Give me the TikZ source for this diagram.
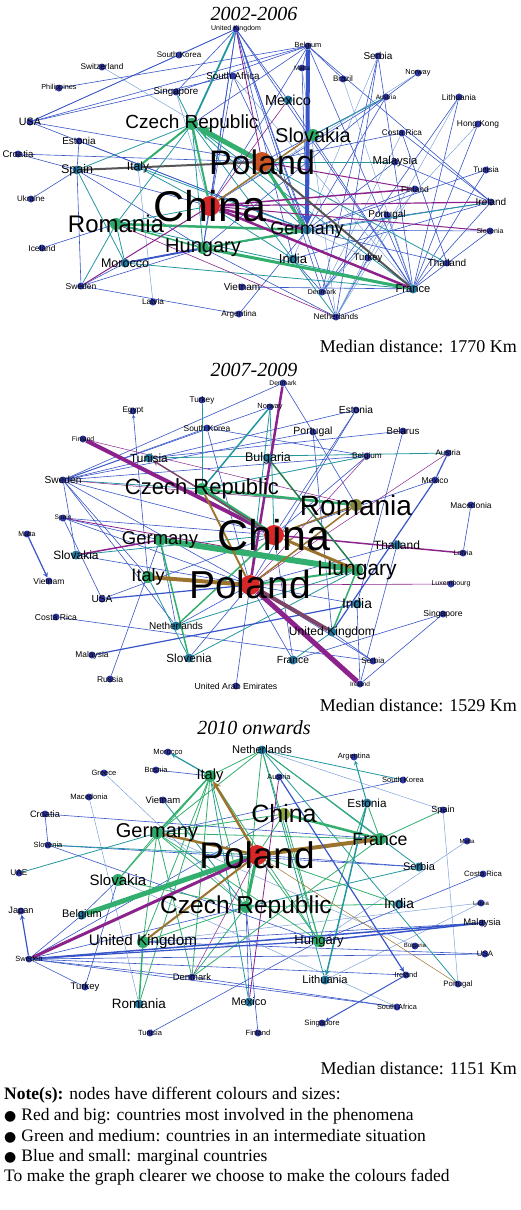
\documentclass[tikz,border=0pt]{standalone}
\usepackage{fontspec}
\setmainfont{Liberation Serif}
\setsansfont{Liberation Sans}
\newfontfamily\symfont{DejaVu Sans}
\usepackage{tikz}
\usetikzlibrary{backgrounds}
\definecolor{ndblue}{RGB}{45,55,165}
\definecolor{ndteal}{RGB}{35,120,160}
\definecolor{ndgreen}{RGB}{45,170,105}
\definecolor{ndred}{RGB}{215,40,40}
\definecolor{ndorange}{RGB}{200,85,35}
\definecolor{ndolive}{RGB}{135,135,60}
\definecolor{ndlime}{RGB}{140,165,60}
\definecolor{eblue}{RGB}{55,85,200}
\definecolor{elight}{RGB}{115,155,215}
\definecolor{eteal}{RGB}{35,150,160}
\definecolor{egreen}{RGB}{50,175,110}
\definecolor{epurple}{RGB}{140,35,140}
\definecolor{ebrown}{RGB}{155,115,45}
\definecolor{egrey}{RGB}{85,85,85}
\definecolor{emauve}{RGB}{125,70,105}

\tikzset{
  dot/.style={circle, fill=ndblue, inner sep=0pt, minimum size=7pt},
  tdot/.style={circle, fill=ndteal, inner sep=0pt, minimum size=9pt},
  gdot/.style={circle, fill=ndgreen, inner sep=0pt, minimum size=12pt},
  rdot/.style={circle, fill=ndred, inner sep=0pt, minimum size=20pt},
  ctag/.style={font=\fontsize{#1}{#1}\selectfont\sffamily, inner sep=0pt, text=black},
  title/.style={font=\fontsize{20}{20}\selectfont\itshape},
  median/.style={font=\fontsize{18}{18}\selectfont, anchor=east, inner sep=0pt},
  note/.style={font=\fontsize{17.5}{17.5}\selectfont, anchor=west, inner sep=0pt},
  eb/.style={draw=eblue, line width=0.6pt},
  el/.style={draw=elight, line width=0.45pt},
  et/.style={draw=eteal, line width=0.8pt},
  eg/.style={draw=egreen, line width=1pt},
  ep/.style={draw=epurple, line width=1pt},
  eo/.style={draw=ebrown, line width=1pt},
}

\begin{document}
\begin{tikzpicture}[x=1pt, y=-1pt]
\useasboundingbox (0,0) rectangle (520,1210);

% ---------- 2002-2006
\node[title] (t1) at (254,14) {2002-2006};
\node[dot, label={[ctag=7]center:United Kingdom}] (pUK) at (236,29) {};
\node[dot, label={[ctag=8]center:South Korea}] (pSKo) at (179,55) {};
\node[dot, label={[ctag=8.3]center:Switzerland}] (pSwi) at (102,67) {};
\node[dot, label={[ctag=7.3]center:Philippines}] (pPhi) at (59,88) {};
\node[dot, label={[ctag=9.8]center:South Africa}] (pSAf) at (233,76) {};
\node[dot, label={[ctag=9.8]center:Singapore}] (pSin) at (176,92) {};
\node[dot, label={[ctag=10.7]center:USA}] (pUSA) at (30,122) {};
\node[gdot, label={[ctag=19]center:Czech Republic}] (pCze) at (192,124) {};
\node[dot, label={[ctag=10]center:Estonia}] (pEst) at (79,141) {};
\node[dot, label={[ctag=9.6]center:Croatia}] (pCro) at (18,154) {};
\node[tdot, label={[ctag=12.5]center:Spain}] (pSpa) at (77,170) {};
\node[tdot, label={[ctag=12]center:Italy}] (pIta) at (138,167) {};
\node[dot, label={[ctag=8]center:Ukraine}] (pUkr) at (31,199) {};
\node[rdot, label={[ctag=43]center:China}] (pChi) at (210,206) {};
\node[gdot, label={[ctag=24]center:Romania}] (pRom) at (116,224) {};
\node[gdot, label={[ctag=20]center:Hungary}] (pHun) at (203,248) {};
\node[dot, label={[ctag=8.4]center:Iceland}] (pIce) at (42,248) {};
\node[tdot, label={[ctag=12.5]center:Morocco}] (pMor) at (125,263) {};
\node[dot, label={[ctag=8.5]center:Sweden}] (pSwe) at (81,286) {};
\node[dot, label={[ctag=8.2]center:Latvia}] (pLat) at (153,302) {};
\node[dot, label={[ctag=10]center:Vietnam}] (pVie) at (242,287) {};
\node[dot, label={[ctag=8.2]center:Argentina}] (pArg) at (239,314) {};
\node[dot, label={[ctag=7.4]center:Belgium}] (pBel) at (308,46) {};
\node[dot, label={[ctag=6.5]center:Malta}] (pMal) at (302,68) {};
\node[dot, label={[ctag=8]center:Brazil}] (pBra) at (343,79) {};
\node[dot, label={[ctag=10]center:Serbia}] (pSer) at (378,56) {};
\node[dot, label={[ctag=7.4]center:Norway}] (pNor) at (418,73) {};
\node[tdot, label={[ctag=14.5]center:Mexico}] (pMex) at (288,100) {};
\node[dot, label={[ctag=6.5]center:Austria}] (pAus) at (386,97) {};
\node[dot, label={[ctag=8.4]center:Lithuania}] (pLit) at (459,97) {};
\node[dot, label={[ctag=8.4]center:Hong Kong}] (pHK) at (478,124) {};
\node[dot, label={[ctag=8.2]center:Costa Rica}] (pCR) at (402,133) {};
\node[gdot, label={[ctag=20]center:Slovakia}] (pSlk) at (313,135) {};
\node[rdot, fill=ndorange, label={[ctag=34]center:Poland}] (pPol) at (262,162) {};
\node[dot, label={[ctag=11.4]center:Malaysia}] (pMys) at (395,162) {};
\node[dot, label={[ctag=8]center:Tunisia}] (pTun) at (486,170) {};
\node[dot, label={[ctag=8.5]center:Finland}] (pFin) at (415,189) {};
\node[dot, label={[ctag=10]center:Ireland}] (pIre) at (491,202) {};
\node[dot, label={[ctag=10]center:Portugal}] (pPor) at (387,215) {};
\node[tdot, label={[ctag=17.8]center:Germany}] (pGer) at (307,230) {};
\node[dot, label={[ctag=7]center:Slovenia}] (pSlo) at (490,231) {};
\node[tdot, label={[ctag=13]center:India}] (pInd) at (293,259) {};
\node[dot, label={[ctag=9.5]center:Turkey}] (pTur) at (368,258) {};
\node[dot, label={[ctag=10]center:Thailand}] (pTha) at (447,263) {};
\node[dot, label={[ctag=7]center:Denmark}] (pDen) at (322,292) {};
\node[tdot, label={[ctag=11.2]center:France}] (pFra) at (413,289) {};
\node[dot, label={[ctag=8.3]center:Netherlands}] (pNet) at (336,317) {};
\node[median] (m1) at (517,346) {Median distance: 1770 Km};

% ---------- 2007-2009
\node[title] (t2) at (254,370) {2007-2009};
\node[dot, label={[ctag=8.2]center:Turkey}] (qTur) at (202,400) {};
\node[dot, label={[ctag=8.2]center:Egypt}] (qEgy) at (133,411) {};
\node[dot, label={[ctag=8.4]center:South Korea}] (qSKo) at (207,428) {};
\node[dot, label={[ctag=6.8]center:Finland}] (qFin) at (83,439) {};
\node[tdot, label={[ctag=11.8]center:Tunisia}] (qTun) at (149,458) {};
\node[dot, label={[ctag=10.2]center:Sweden}] (qSwe) at (63,480) {};
\node[gdot, label={[ctag=22]center:Czech Republic}] (qCze) at (202,489) {};
\node[tdot, label={[ctag=12.5]center:Bulgaria}] (qBul) at (268,458) {};
\node[dot, label={[ctag=6.7]center:Denmark}] (qDen) at (283,383) {};
\node[dot, label={[ctag=7.4]center:Norway}] (qNor) at (270,407) {};
\node[dot, label={[ctag=10.2]center:Estonia}] (qEst) at (356,410) {};
\node[dot, label={[ctag=10.5]center:Portugal}] (qPor) at (313,432) {};
\node[dot, label={[ctag=9.7]center:Belarus}] (qBelr) at (403,431) {};
\node[dot, label={[ctag=8.2]center:Belgium}] (qBel) at (367,456) {};
\node[dot, label={[ctag=8]center:Austria}] (qAus) at (448,453) {};
\node[dot, label={[ctag=8.5]center:Mexico}] (qMex) at (435,480) {};
\node[dot, label={[ctag=8.4]center:Macedonia}] (qMac) at (471,505) {};
\node[gdot, fill=ndolive, label={[ctag=28]center:Romania}] (qRom) at (356,505) {};
\node[rdot, label={[ctag=43]center:China}] (qChi) at (274,535) {};
\node[tdot, label={[ctag=12]center:Thailand}] (qTha) at (397,545) {};
\node[dot, label={[ctag=7.1]center:Latvia}] (qLat) at (463,553) {};
\node[gdot, label={[ctag=21]center:Hungary}] (qHun) at (357,570) {};
\node[dot, label={[ctag=7]center:Luxembourg}] (qLux) at (451,584) {};
\node[rdot, label={[ctag=39]center:Poland}] (qPol) at (250,585) {};
\node[tdot, label={[ctag=13.8]center:India}] (qInd) at (357,604) {};
\node[dot, label={[ctag=8.6]center:Singapore}] (qSin) at (443,614) {};
\node[tdot, label={[ctag=12.1]center:United Kingdom}] (qUK) at (332,632) {};
\node[tdot, label={[ctag=10.3]center:France}] (qFra) at (293,660) {};
\node[dot, label={[ctag=8]center:Serbia}] (qSer) at (373,661) {};
\node[dot, label={[ctag=6.5]center:Ireland}] (qIre) at (360,684) {};
\node[dot, label={[ctag=6.6]center:Spain}] (qSpa) at (63,518) {};
\node[dot, label={[ctag=7]center:Malta}] (qMlt) at (27,534) {};
\node[gdot, label={[ctag=18.5]center:Germany}] (qGer) at (160,540) {};
\node[tdot, label={[ctag=12]center:Slovakia}] (qSlk) at (76,555) {};
\node[dot, label={[ctag=8.5]center:Vietnam}] (qVie) at (49,581) {};
\node[gdot, label={[ctag=18]center:Italy}] (qIta) at (148,577) {};
\node[dot, label={[ctag=10.2]center:USA}] (qUSA) at (102,599) {};
\node[dot, label={[ctag=8.6]center:Costa Rica}] (qCR) at (56,617) {};
\node[tdot, label={[ctag=10]center:Netherlands}] (qNet) at (176,626) {};
\node[dot, label={[ctag=8.4]center:Malaysia}] (qMys) at (92,655) {};
\node[tdot, label={[ctag=11.8]center:Slovenia}] (qSlo) at (189,658) {};
\node[dot, label={[ctag=8.5]center:Russia}] (qRus) at (110,679) {};
\node[dot, label={[ctag=8.7]center:United Arab Emirates}] (qUAE) at (236,686) {};
\node[median] (m2) at (517,705) {Median distance: 1529 Km};

% ---------- 2010 onwards
\node[title] (t3) at (254,728) {2010 onwards};
\node[dot, label={[ctag=7.6]center:Morocco}] (rMor) at (168,752) {};
\node[tdot, label={[ctag=11.1]center:Netherlands}] (rNet) at (262,750) {};
\node[dot, label={[ctag=7.5]center:Bosnia}] (rBos) at (156,770) {};
\node[dot, label={[ctag=7.6]center:Greece}] (rGre) at (104,773) {};
\node[gdot, label={[ctag=14.7]center:Italy}] (rIta) at (210,776) {};
\node[dot, label={[ctag=7.6]center:Macedonia}] (rMac) at (89,797) {};
\node[dot, label={[ctag=9.5]center:Vietnam}] (rVie) at (163,800) {};
\node[dot, label={[ctag=9.3]center:Croatia}] (rCro) at (45,814) {};
\node[gdot, label={[ctag=20]center:Germany}] (rGer) at (157,833) {};
\node[dot, label={[ctag=7.5]center:Slovenia}] (rSlo) at (48,845) {};
\node[dot, label={[ctag=7.4]center:Austria}] (rAus) at (279,777) {};
\node[dot, label={[ctag=7.5]center:Argentina}] (rArg) at (354,757) {};
\node[dot, label={[ctag=7.5]center:South Korea}] (rSKo) at (403,780) {};
\node[tdot, label={[ctag=11.7]center:Estonia}] (rEst) at (367,803) {};
\node[dot, label={[ctag=9]center:Spain}] (rSpa) at (443,810) {};
\node[gdot, fill=ndlime, label={[ctag=25]center:China}] (rChi) at (284,814) {};
\node[gdot, label={[ctag=17.7]center:France}] (rFra) at (380,839) {};
\node[dot, label={[ctag=6]center:Malta}] (rMlt) at (467,841) {};
\node[rdot, label={[ctag=37]center:Poland}] (rPol) at (257,855) {};
\node[dot, label={[ctag=8.3]center:UAE}] (rUAE) at (19,873) {};
\node[gdot, label={[ctag=15]center:Slovakia}] (rSlk) at (118,880) {};
\node[dot, label={[ctag=9.2]center:Japan}] (rJap) at (21,911) {};
\node[tdot, label={[ctag=11]center:Belgium}] (rBel) at (82,915) {};
\node[gdot, label={[ctag=24.5]center:Czech Republic}] (rCze) at (246,907) {};
\node[gdot, label={[ctag=15.2]center:United Kingdom}] (rUK) at (143,942) {};
\node[dot, label={[ctag=7.5]center:Sweden}] (rSwe) at (29,959) {};
\node[dot, label={[ctag=9.4]center:Denmark}] (rDen) at (192,977) {};
\node[dot, label={[ctag=9.5]center:Turkey}] (rTur) at (85,987) {};
\node[tdot, label={[ctag=13.5]center:Romania}] (rRom) at (139,1004) {};
\node[tdot, label={[ctag=11]center:Mexico}] (rMex) at (249,1002) {};
\node[tdot, label={[ctag=11]center:Serbia}] (rSer) at (419,867) {};
\node[dot, label={[ctag=7.7]center:Costa Rica}] (rCR) at (483,874) {};
\node[tdot, label={[ctag=13.8]center:India}] (rInd) at (399,904) {};
\node[dot, label={[ctag=6]center:Latvia}] (rLat) at (481,903) {};
\node[dot, label={[ctag=9.5]center:Malaysia}] (rMys) at (482,923) {};
\node[gdot, label={[ctag=13]center:Hungary}] (rHun) at (319,941) {};
\node[dot, label={[ctag=6]center:Bulgaria}] (rBul) at (415,946) {};
\node[dot, label={[ctag=7.8]center:USA}] (rUSA) at (485,954) {};
\node[dot, label={[ctag=7.5]center:Ireland}] (rIre) at (406,975) {};
\node[tdot, label={[ctag=11.1]center:Lithuania}] (rLit) at (325,980) {};
\node[dot, label={[ctag=7.8]center:Portugal}] (rPor) at (458,984) {};
\node[dot, label={[ctag=7.3]center:South Africa}] (rSAf) at (397,1007) {};
\node[dot, label={[ctag=7.7]center:Singapore}] (rSin) at (322,1023) {};
\node[dot, label={[ctag=7.5]center:Tunisia}] (rTun) at (150,1033) {};
\node[dot, label={[ctag=7.5]center:Finland}] (rFin) at (258,1033) {};
\node[median] (m3) at (517,1068) {Median distance: 1151 Km};

% ---------- notes
\node[note] (n1) at (4,1095) {\textbf{Note(s):} nodes have different colours and sizes:};
\node[note] (n2) at (4,1116) {{\symfont\fontsize{14}{14}\selectfont ●}\hspace{5pt}Red and big: countries most involved in the phenomena};
\node[note] (n3) at (4,1136) {{\symfont\fontsize{14}{14}\selectfont ●}\hspace{5pt}Green and medium: countries in an intermediate situation};
\node[note] (n4) at (4,1157) {{\symfont\fontsize{14}{14}\selectfont ●}\hspace{5pt}Blue and small: marginal countries};
\node[note] (n5) at (4,1177) {To make the graph clearer we choose to make the colours faded};

\begin{scope}[on background layer]
% 2002-2006 links
\foreach \a/\b in {pUK/pUSA, pUK/pSKo, pUK/pChi, pUK/pGer, pUK/pFra, pUK/pDen, pUK/pNet,
  pUK/pInd, pUK/pHun, pUK/pMex, pUK/pSin, pSKo/pUSA, pSAf/pUSA, pBel/pUSA, pBel/pSin,
  pBel/pCze, pBel/pBra, pBel/pMal, pBel/pChi, pBel/pFra, pBel/pIre, pPhi/pBel, pUSA/pPol,
  pUSA/pGer, pEst/pSpa, pEst/pGer, pCro/pChi, pCro/pPol, pSpa/pSwe, pSpa/pUkr, pSpa/pHun,
  pIce/pRom, pSwe/pArg, pSwe/pMor, pSer/pDen, pSer/pFra, pNor/pAus, pAus/pChi,
  pAus/pPol, pAus/pGer, pAus/pHun, pLit/pFra, pHK/pFra, pCR/pIre, pCR/pTha, pMys/pGer,
  pMys/pIre, pTun/pFra, pTun/pGer, pFin/pGer, pIre/pGer, pIre/pFra, pIre/pInd, pPor/pDen,
  pPor/pFra, pSlo/pGer, pSlo/pFra, pInd/pDen, pTur/pNet, pTha/pGer, pNet/pHun, pNet/pFra,
  pVie/pFra, pArg/pGer, pSAf/pGer, pSAf/pHun, pMal/pGer, pMex/pFra, pSer/pNet, pLit/pDen,
  pCR/pPol, pMor/pGer, pSwe/pHun}
  \draw[eb] (\a) -- (\b);
\foreach \a/\b in {pSwi/pPol, pIta/pLat, pHK/pDen, pNor/pChi, pSAf/pFra, pBra/pFra,
  pSer/pInd, pMal/pNet, pTur/pGer, pFin/pNet, pPor/pNet, pCR/pDen, pLit/pNet, pSin/pChi}
  \draw[el] (\a) -- (\b);
\foreach \a/\b in {pSin/pCze, pCze/pSpa, pCze/pRom, pCze/pHun, pCze/pGer, pCze/pFra,
  pSpa/pMor, pIta/pChi, pIta/pGer, pRom/pSwe, pRom/pMor, pRom/pFra, pHun/pIre, pTha/pCze,
  pNet/pCze, pInd/pChi, pSlk/pAus, pMys/pPol, pRom/pChi, pMor/pFra}
  \draw[et] (\a) -- (\b);
\draw[et, line width=1.8pt] (pUK) -- (pCze);
\draw[eb, line width=1.8pt] (pMor) -- (pHun);
\draw[eb, line width=4pt, -stealth] (pBel) -- (pGer);
\draw[eg, line width=5pt, -stealth] (pPol) -- (pCze);
\draw[eg, line width=2pt] (pCze) -- (pChi);
\draw[eg, line width=2pt] (pCze) -- (pIta);
\draw[eg, line width=2.5pt] (pRom) -- (pGer);
\draw[eg, line width=3pt] (pHun) -- (pFra);
\draw[eg, line width=2pt] (pHun) -- (pGer);
\draw[eg, line width=1.5pt] (pRom) -- (pHun);
\draw[eg, line width=3pt] (pPol) -- (pGer);
\draw[eo, line width=1.5pt] (pSlk) -- (pChi);
\draw[ep, line width=0.8pt] (pUK) -- (pPol);
\draw[ep, line width=2.5pt] (pChi) -- (pGer);
\draw[ep, line width=1.2pt] (pChi) -- (pIre);
\draw[ep, line width=1.5pt] (pChi) -- (pFin);
\draw[ep, line width=1pt] (pChi) -- (pSlo);
\draw[ep, line width=1pt] (pSwe) -- (pChi);
\draw[ep, line width=0.6pt] (pMex) -- (pChi);
\draw[ep, line width=1pt] (pPol) -- (pFin);
\draw[ep, line width=0.6pt] (pRom) -- (pNet);
\draw[ep, line width=2.5pt] (pChi) -- (pFra);
\draw[draw=egrey, line width=2pt] (pSpa) -- (pPol);
\draw[draw=egrey, line width=2pt] (pPol) -- (pFra);

% 2007-2009 links
\foreach \a/\b in {qSKo/qSwe, qSKo/qPol, qEst/qSwe, qEst/qChi, qPor/qSwe, qPor/qRom,
  qPor/qUK, qBelr/qTun, qBelr/qInd, qBel/qSwe, qBel/qChi, qMex/qChi, qMac/qLat,
  qTha/qIre, qTha/qPol, qSin/qIre, qInd/qIre, qInd/qPol, qUK/qSer, qFra/qPol, qSer/qPol,
  qSwe/qChi, qSwe/qPol, qSwe/qIta, qSwe/qSlk, qSwe/qNet, qSwe/qNor, qSpa/qChi, qSpa/qPol,
  qSpa/qUSA, qSpa/qGer, qSlk/qPol, qUSA/qChi, qCR/qSer, qRus/qGer, qUAE/qPol,
  qNet/qPol, qNet/qGer, qSlo/qPol, qFra/qChi, qDen/qPor, qEst/qPol, qDen/qSwe, qSKo/qBel,
  qSin/qFra}
  \draw[eb] (\a) -- (\b);
\foreach \a/\b in {qNor/qPol, qSwe/qCze, qAus/qTun, qBel/qCze, qSlk/qChi, qNet/qHun,
  qUK/qFra, qIta/qSlo, qSlo/qHun, qTur/qCze, qNor/qChi}
  \draw[et] (\a) -- (\b);
\draw[et, line width=1.5pt] (qNor) -- (qCze);
\draw[eb, -stealth] (qIta) -- (qEgy);
\draw[eb, line width=1.2pt, -stealth] (qMlt) -- (qVie);
\draw[eb, line width=1.2pt] (qAus) -- (qMex);
\draw[eb, line width=1.2pt] (qMex) -- (qUK);
\draw[eb, line width=1.2pt] (qUSA) -- (qPol);
\draw[eb, line width=1.2pt] (qMys) -- (qInd);
\draw[ep, line width=4pt] (qFin) -- (qChi);
\draw[ep, line width=2.5pt] (qDen) -- (qPol);
\draw[ep, line width=5pt] (qPol) -- (qIre);
\draw[draw=emauve, line width=4pt] (qPol) -- (qUK);
\draw[ep, line width=1.5pt] (qChi) -- (qLat);
\draw[ep, line width=0.6pt] (qPol) -- (qLux);
\draw[ep, line width=0.5pt] (qSwe) -- (qRom);
\draw[ep, line width=1.5pt] (qSlk) -- (qGer);
\draw[ep, line width=0.8pt] (qSpa) -- (qHun);
\draw[ep, line width=0.5pt] (qFin) -- (qRom);
\draw[ep, line width=0.5pt] (qBel) -- (qPol);
\draw[ep, line width=0.5pt] (qAus) -- (qPol);
\draw[eg, line width=6pt] (qGer) -- (qHun);
\draw[eg, line width=4pt] (qCze) -- (qChi);
\draw[eg, line width=2.5pt] (qCze) -- (qRom);
\draw[eg, line width=1.5pt] (qHun) -- (qUK);
\draw[eg, line width=2pt] (qHun) -- (qPol);
\draw[eg, line width=1.5pt, draw=egreen!70!black] (qBul) -- (qHun);
\draw[eg, line width=1.5pt] (qSlo) -- (qGer);
\draw[eg, line width=1.5pt] (qNet) -- (qChi);
\draw[eo, line width=4pt] (qIta) -- (qPol);
\draw[eo, line width=2pt] (qCze) -- (qPol);
\draw[eo, line width=3pt, -stealth] (qHun) -- (qChi);
\draw[eo, line width=1.5pt] (qRom) -- (qPol);
\draw[eo, line width=1.5pt] (qRom) -- (qChi);
\draw[draw=emauve, line width=1.5pt, -stealth] (qChi) -- (qTun);

% 2010 onwards links
\foreach \a/\b in {rSwe/rUSA, rSwe/rBel, rSwe/rCze, rSwe/rIre, rSwe/rDen, rSwe/rTur,
  rSwe/rSAf, rIta/rBos, rCro/rFra, rCro/rSlo, rSlo/rSer, rSKo/rGer, rCR/rHun, rMys/rUK,
  rUSA/rUK, rTur/rSlk, rBel/rSlk, rSer/rPol, rHun/rTun, rFin/rCze, rMex/rCze, rSAf/rDen,
  rChi/rSwe, rSlo/rHun}
  \draw[eb] (\a) -- (\b);
\foreach \a/\b in {rSpa/rPor, rMlt/rHun, rBul/rGer, rLat/rLit, rMac/rRom, rGre/rCze,
  rNet/rSpa, rLat/rUK, rSAf/rSlk}
  \draw[el] (\a) -- (\b);
\foreach \a/\b in {rSlo/rPol, rVie/rCze, rUAE/rGer, rSer/rCze, rPor/rNet, rNet/rSer,
  rSKo/rNet, rNet/rLit, rIta/rMex}
  \draw[et] (\a) -- (\b);
\foreach \a/\b in {rGer/rCze, rIta/rCze, rIta/rUK, rIta/rSlk, rIta/rRom, rIta/rDen,
  rIta/rHun, rGer/rFra, rGer/rSlk, rGer/rUK, rGer/rDen, rGer/rHun, rNet/rGer, rNet/rCze,
  rNet/rHun, rChi/rPol, rChi/rGer, rUK/rCze, rHun/rPol, rSlk/rCze, rDen/rCze, rDen/rFra,
  rInd/rCze, rInd/rPol, rEst/rFra, rEst/rHun, rSpa/rFra, rNet/rFra, rNet/rIta, rChi/rHun}
  \draw[eg, line width=0.8pt] (\a) -- (\b);
\draw[eo, line width=4pt] (rPol) -- (rFra);
\draw[eo, line width=2.5pt, -stealth] (rPol) -- (rIta);
\draw[eo, line width=2.5pt] (rGer) -- (rPol);
\draw[eo, line width=2pt] (rUK) -- (rPol);
\draw[eo, line width=0.5pt] (rPor) -- (rPol);
\draw[eg, line width=5pt] (rBel) -- (rPol);
\draw[eg, line width=3pt] (rCze) -- (rPol);
\draw[eg, line width=2.5pt] (rChi) -- (rFra);
\draw[eg, line width=1.5pt] (rIta) -- (rGer);
\draw[eg, line width=1.5pt] (rUK) -- (rRom);
\draw[ep, line width=3pt] (rSwe) -- (rPol);
\draw[ep, line width=0.8pt] (rMex) -- (rAus);
\draw[ep, line width=0.5pt] (rDen) -- (rPol);
\draw[et, line width=1.2pt, -stealth] (rIta) -- (rMor);
\draw[et, line width=1pt, -stealth] (rEst) -- (rArg);
\draw[et, line width=1.5pt, -stealth] (rEst) -- (rLit);
\draw[eb, line width=1.2pt, -stealth] (rSwe) -- (rJap);
\draw[eb, line width=1.5pt] (rSwe) -- (rMys);
\draw[eb, line width=1.2pt] (rSwe) -- (rHun);
\draw[eb, line width=1.5pt] (rMys) -- (rHun);
\draw[eb, line width=1.2pt, -stealth] (rAus) -- (rIre);
\draw[eb, line width=1pt, -stealth] (rIre) -- (rSin);
\end{scope}
\end{tikzpicture}
\end{document}
